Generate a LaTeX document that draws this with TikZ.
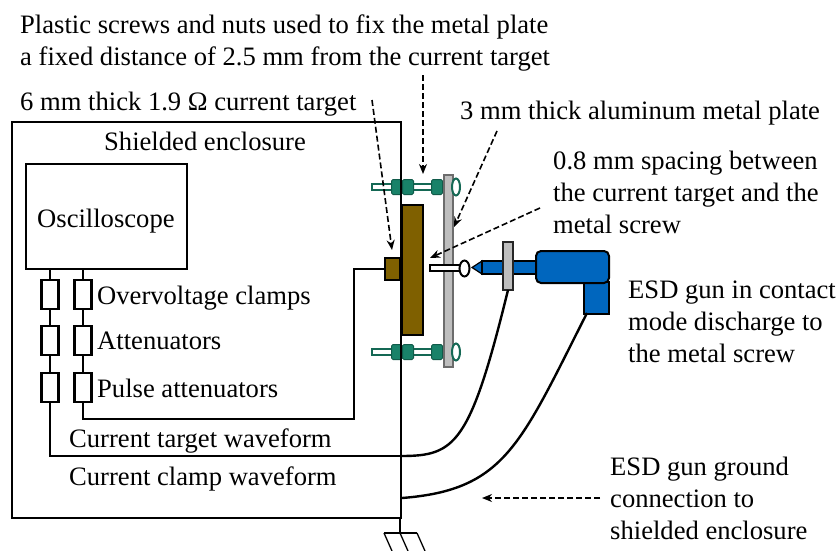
\documentclass[tikz,border=0pt]{standalone}
\usepackage{fontspec}
\setmainfont{Liberation Serif}
\usetikzlibrary{shapes, arrows.meta, positioning, calc}
\definecolor{brown1}{RGB}{127, 96, 0}
\definecolor{blue1}{RGB}{0, 102, 190}
\definecolor{green1}{RGB}{25, 130, 105}
\definecolor{gray1}{RGB}{190, 190, 190}
\tikzset{
  label1/.style={anchor=west, align=left, inner sep=0pt, yshift=-2pt, font=\fontsize{26.6}{32}\selectfont},
  box1/.style={draw, line width=2.8pt, inner sep=0pt},
  res1/.style={box1, fill=white, minimum width=17pt, minimum height=29pt},
  wire1/.style={line width=2.8pt},
  cable1/.style={line width=2.4pt},
  dash1/.style={dashed, line width=1.6pt, dash pattern=on 6pt off 3pt, -{Stealth[length=10pt, width=8pt]}},
  clamp1/.style={draw=green1!70!black, fill=green1, line width=1pt, rounded corners=1.5pt, inner sep=0pt, minimum width=11pt, minimum height=15pt},
}
\begin{document}
\begin{tikzpicture}[x=1pt, y=-1pt]
  \useasboundingbox (0,0) rectangle (840,551);

  % ---- Fixing screws ----
  \foreach \y/\n in {187/top, 352/bot} {
    \draw[draw=green1!80!black, fill=white, line width=1.8pt] (372,\y-3) rectangle (452,\y+3);
    \node[clamp1] (clampa\n) at (397,\y) {};
    \node[clamp1] (clampb\n) at (408,\y) {};
    \node[clamp1] (clampc\n) at (437,\y) {};
  }

  % ---- Metal plate ----
  \node[draw=gray!85!black, fill=gray1, line width=2pt, inner sep=0pt, minimum width=9pt, minimum height=192pt] (plate) at (448,270.5) {};
  \foreach \y/\n in {187/top, 352/bot}
    \node[draw=green1!80!black, fill=white, line width=2pt, ellipse, inner sep=0pt, minimum width=8pt, minimum height=17pt] (cap\n) at (456,\y) {};

  % ---- Enclosure ----
  \node[box1, minimum width=389pt, minimum height=396pt] (enclosure) at (206.5,320) {};
  \node[box1, minimum width=161pt, minimum height=105pt] (scope) at (106.5,216.5) {};
  \node[label1] (scopetxt) at (37,219) {Oscilloscope};
  \node[label1] (enctxt) at (104,139) {Shielded enclosure};

  % ---- Resistor chains ----
  \foreach \y/\n in {294.5/1, 340.5/2, 387.5/3} {
    \node[res1] (resl\n) at (50,\y) {};
    \node[res1] (resr\n) at (83,\y) {};
  }
  \draw[wire1] (resl1.north |- scope.south) -- (resl1);
  \draw[wire1] (resr1.north |- scope.south) -- (resr1);
  \draw[wire1] (resl1) -- (resl2);
  \draw[wire1] (resl2) -- (resl3);
  \draw[wire1] (resr1) -- (resr2);
  \draw[wire1] (resr2) -- (resr3);

  \node[label1] (overtxt) at (97,296) {Overvoltage clamps};
  \node[label1] (atttxt) at (97,339) {Attenuators};
  \node[label1] (pulsetxt) at (97,386) {Pulse attenuators};
  \node[label1] (targtxt) at (69,439) {Current target waveform};
  \node[label1] (clamptxt) at (69,477) {Current clamp waveform};

  % ---- Current target ----
  \node[box1, fill=brown1, minimum width=21pt, minimum height=130pt] (target) at (412.5,270) {};
  \node[box1, fill=brown1, minimum width=15pt, minimum height=22pt] (sense) at (392.5,269) {};
  \draw[wire1] (resr3) -- (83,419) -- (354,419) -- (354,269) -- (sense);

  % ---- Metal screw ----
  \node[draw, fill=white, line width=2pt, inner sep=0pt, minimum width=30pt, minimum height=6pt] (screw) at (445,268) {};
  \node[draw, fill=white, line width=2pt, ellipse, inner sep=0pt, minimum width=10pt, minimum height=16pt] (screwcap) at (464.5,268.5) {};

  % ---- ESD gun ----
  \fill[blue1, draw=black, line width=1.2pt] (472,267.5) -- (482,261) -- (482,274) -- cycle;
  \node[draw=black, fill=blue1, line width=1.2pt, inner sep=0pt, minimum width=54pt, minimum height=13pt] (barrel) at (509,267.5) {};
  \node[draw=gray!30!black, fill=gray1, line width=1.5pt, inner sep=0pt, minimum width=10pt, minimum height=48pt] (flange) at (508,266) {};
  \node[draw=black, fill=blue1, line width=2pt, inner sep=0pt, minimum width=25pt, minimum height=32pt] (handle) at (596.5,297.5) {};
  \node[draw=black, fill=blue1, line width=2pt, inner sep=0pt, rounded corners=5pt, minimum width=73pt, minimum height=32pt] (body) at (572.5,267) {};

  % ---- Cables ----
  \coordinate (enchigh) at (401,456);
  \coordinate (enclow) at (402,498);
  \draw[wire1] (resl3) -- (50,456) -- (enchigh);
  \draw[cable1] (enchigh) .. controls (455,456) and (470,445) .. (508,290);
  \draw[cable1] (enclow) .. controls (505,490) and (520,445) .. (587,313);

  % ---- Ground ----
  \coordinate (gndtop) at (400,518);
  \coordinate (gndmid) at (400,533);
  \draw[line width=1.3pt] (gndtop) -- (gndmid);
  \draw[line width=1.3pt] (384,533) -- (417,533);
  \foreach \x in {384, 400, 417}
    \draw[line width=1.3pt] (\x,533) -- (\x+8,551);

  % ---- Labels ----
  \node[label1] (plasttxt) at (20,41) {Plastic screws and nuts used to fix the metal plate\\a fixed distance of 2.5 mm from the current target};
  \node[label1] (thicktxt) at (20,102) {6 mm thick 1.9 Ω current target};
  \node[label1] (alutxt) at (460,111) {3 mm thick aluminum metal plate};
  \node[label1] (gaptxt) at (553,190) {0.8 mm spacing between\\the current target and the\\metal screw};
  \node[label1] (contacttxt) at (628,320) {ESD gun in contact\\mode discharge to\\the metal screw};
  \node[label1] (gndtxt) at (610,496) {ESD gun ground\\connection to\\shielded enclosure};

  % ---- Dashed arrows ----
  \coordinate (a1) at (372,100);  \coordinate (a2) at (392,250);
  \coordinate (b1) at (423,75);   \coordinate (b2) at (423,174);
  \coordinate (c1) at (497,131);  \coordinate (c2) at (454,227);
  \coordinate (d1) at (540,208);  \coordinate (d2) at (430,258);
  \coordinate (e1) at (600,498);  \coordinate (e2) at (482,498);
  \foreach \s/\t in {a1/a2, b1/b2, c1/c2, d1/d2, e1/e2}
    \draw[dash1] (\s) -- (\t);
\end{tikzpicture}
\end{document}
